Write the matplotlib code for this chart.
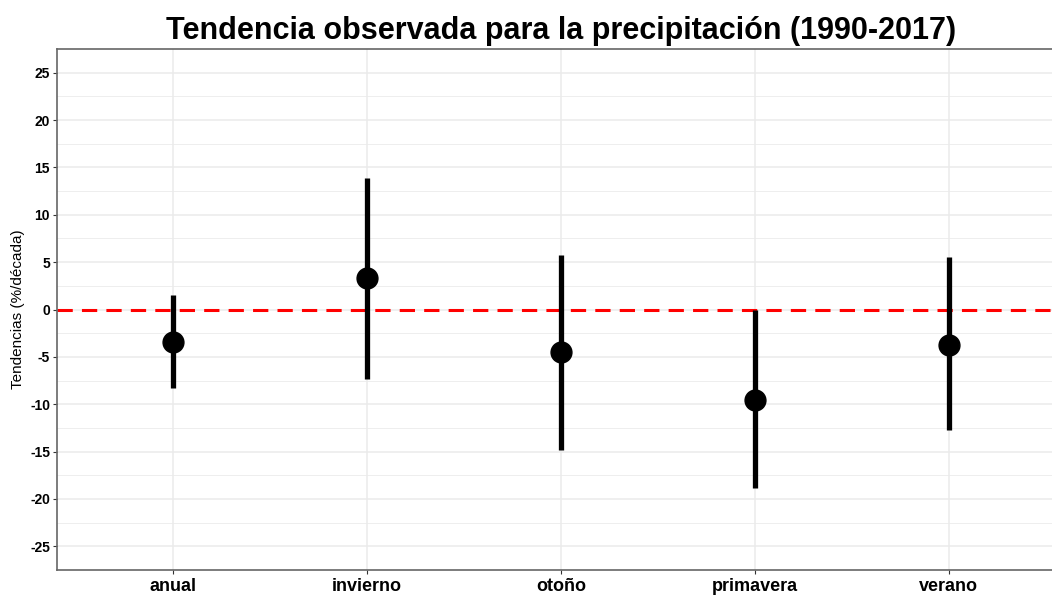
import matplotlib.pyplot as plt
import numpy as np

plt.rcParams['font.family'] = ['Liberation Sans', 'DejaVu Sans']
plt.rcParams['axes.unicode_minus'] = False

estaciones = ['anual', 'invierno', 'otoño', 'primavera', 'verano']
tendencia = [-3.4, 3.3, -4.5, -9.6, -3.7]
lim_inf = [-8.3, -7.35, -14.8, -18.8, -12.7]
lim_sup = [1.5, 13.9, 5.8, 0.0, 5.5]

x = np.arange(1, len(estaciones) + 1)

fig = plt.figure(figsize=(10.52, 5.96), dpi=100)
ax = fig.add_axes([0.0542, 0.0436, 0.9582, 0.8742])

ax.set_xlim(0.4, 5.6)
ax.set_ylim(-27.5, 27.5)

# grid
ax.set_yticks(np.arange(-25, 26, 5))
ax.set_yticks(np.arange(-22.5, 23, 5), minor=True)
ax.set_xticks(x)
ax.grid(True, which='major', color='#EBEBEB', lw=1.1)
ax.grid(True, which='minor', axis='y', color='#EBEBEB', lw=0.6)
ax.set_axisbelow(True)

ax.axhline(0, color='#FF0000', lw=2.2, ls=(0, (5, 3)), zorder=2)

ax.vlines(x, lim_inf, lim_sup, color='black', lw=3.8, zorder=3)
ax.plot(x, tendencia, 'o', color='black', ms=15, zorder=4)

ax.set_xticklabels(estaciones, fontsize=13, fontweight='bold')
ax.tick_params(axis='y', which='major', labelsize=10, length=3, color='#333333', pad=2)
ax.tick_params(axis='y', which='minor', length=0)
ax.tick_params(axis='x', length=3, color='#333333', pad=3)
for lbl in ax.get_yticklabels():
    lbl.set_fontweight('bold')

for s in ax.spines.values():
    s.set_color('#666666')
    s.set_linewidth(1.2)

ax.set_ylabel('Tendencias (%/década)', fontsize=11, labelpad=4)
ax.set_title('Tendencia observada para la precipitación (1990-2017)',
             fontsize=22, fontweight='bold', pad=7)

fig.savefig('out.png', dpi=100)
